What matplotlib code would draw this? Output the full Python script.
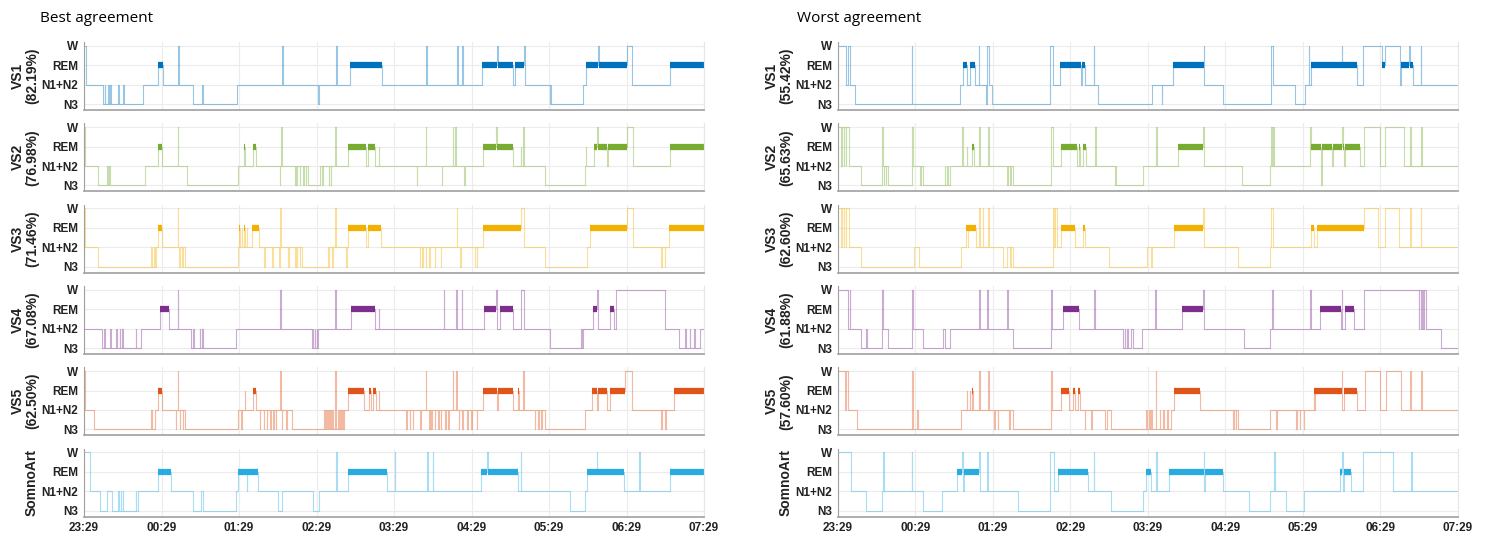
import matplotlib
matplotlib.use("Agg")
import matplotlib.pyplot as plt

# sleep stages, bottom to top
STAGES = ['N3', 'N1+N2', 'REM', 'W']
HOURS = ['23:29', '00:29', '01:29', '02:29', '03:29', '04:29', '05:29', '06:29', '07:29']
NIGHT_MIN = 480  # minutes from 23:29 to 07:29

colors = ['#0072BD', '#77AC30', '#F2B100', '#7E2F8E', '#E0541A', '#29ABE2']
best_labels = ['VS1\n(82.19%)', 'VS2\n(76.98%)', 'VS3\n(71.46%)', 'VS4\n(67.08%)', 'VS5\n(62.50%)', 'SomnoArt']
worst_labels = ['VS1\n(55.42%)', 'VS2\n(65.63%)', 'VS3\n(62.60%)', 'VS4\n(61.88%)', 'VS5\n(57.60%)', 'SomnoArt']

# hypnograms: (minute after 23:29 where a stage starts, stage index)
best_vs1 = [(0,3),(1.5,1),(14.5,0),(16,1),(16.5,0),(18.5,1),(19.5,0),(20,1),(21,0),(26.5,1),(27,0),(30,1),(31,0),
            (45.5,1),(57,2),(61,1),(73,3),(73.5,1),(84.5,0),(91.5,1),(92.5,0),(118.5,1),(153,3),(154,1),(181,0),
            (182,1),(195,3),(196,1),(206,2),(230.5,1),(264.5,3),(265.5,1),(288.5,3),(289.5,1),(292.5,3),(293.5,1),
            (308,2),(319.5,3),(320.5,2),(332.5,1),(333.5,2),(340.5,3),(341.5,1),(360.5,0),(361,1),(361.5,0),
            (386,1),(389,2),(398,3),(398.5,2),(420,3),(424,1),(454,2)]
best_vs2 = [(0,3),(1,1),(11,0),(17.5,1),(18.5,0),(19.5,1),(20.5,0),(47.5,1),(57,2),(60.5,1),(72.5,3),(73,1),
            (79.5,0),(119,1),(124,2),(125,1),(130.5,2),(133,1),(151.5,0),(152,1),(152.5,3),(153,1),(163,0),
            (163.5,1),(164.5,0),(165,1),(167,0),(167.5,1),(169.5,0),(170,1),(171.5,0),(172,1),(173.5,0),(183,1),
            (184.5,0),(185,1),(189.5,0),(190,1),(191,0),(191.5,1),(194.5,3),(195,1),(204.5,2),(218.5,1),
            (219.5,2),(225,1),(228,2),(228.5,1),(257.5,0),(258,1),(264.5,3),(265,1),(277,0),(277.5,1),(285.5,3),
            (286,1),(287.5,3),(288,1),(294.5,0),(295,1),(309,2),(319,3),(319.5,2),(332,1),(338,2),(338.5,1),
            (340,3),(340.5,1),(357,0),(388,1),(388.5,2),(389,1),(395,2),(397.5,3),(398,2),(405,1),(405.5,2),
            (420,3),(425,1),(453.5,2)]
best_vs3 = [(0,3),(1,1),(11,0),(52,1),(53,0),(54,1),(55,0),(55.5,1),(57,2),(60.5,1),(72.5,3),(73,1),(73.5,0),
            (74,1),(76,0),(76.5,1),(78.5,0),(119,1),(120,2),(120.5,1),(122,2),(122.5,1),(124,2),(125,1),(126,2),
            (126.5,1),(130,2),(135.5,1),(139.5,0),(140,1),(145.5,0),(146,1),(151,0),(151.5,1),(152,3),(152.5,1),
            (158,0),(158.5,1),(163,0),(163.5,1),(164.5,0),(165,1),(167,0),(167.5,1),(169,0),(189,1),(189.5,0),
            (190,1),(192,0),(192.5,1),(194.5,3),(195,1),(203,0),(203.5,1),(204.5,2),(218.5,1),(219.5,2),(230,1),
            (260,0),(260.5,1),(262,0),(262.5,1),(264.5,0),(265,1),(267,0),(267.5,1),(271.5,0),(272,1),(276,0),
            (276.5,1),(288.5,3),(289,1),(291,0),(291.5,1),(302.5,0),(303,1),(304,0),(304.5,1),(309,2),(338.5,3),
            (341,1),(357,0),(389.5,1),(392,2),(420,3),(425,1),(447,0),(447.5,1),(449.5,0),(450,1),(453,2)]
best_vs4 = [(0,1),(14,0),(15.5,1),(16.5,0),(20.5,1),(21,0),(25,1),(25.5,0),(27.5,1),(28,0),(29.5,1),(30,0),
            (40,1),(40.5,0),(44.5,1),(58.5,2),(66,1),(72.5,3),(73,1),(82.5,0),(84,1),(85.5,0),(89.5,1),(90,0),
            (91,1),(92,0),(118,1),(152,3),(152.5,1),(176.5,0),(177,1),(177.5,0),(178.5,1),(179,0),(180,1),
            (180.5,0),(181.5,1),(194.5,3),(195,1),(207,2),(225,1),(228,2),(228.5,1),(278.5,3),(279,1),(288,3),
            (288.5,1),(292.5,3),(293,1),(310,2),(319,3),(319.5,1),(322,2),(332,1),(338.5,3),(340.5,2),(341,1),
            (361,0),(385,1),(385.5,0),(386.5,1),(394,2),(397.5,3),(398,1),(407.5,2),(410.5,1),(411.5,3),
            (449.5,1),(461,0),(465,1),(466,0),(469,1),(469.5,0),(472,1),(473,0),(477,1)]
best_vs5 = [(0,3),(1,1),(8,0),(52,1),(53,0),(55,1),(57,2),(60.5,1),(71,0),(71.5,1),(72.5,3),(73,1),(74,0),
            (74.5,1),(76.5,0),(77,1),(78.5,0),(119,1),(121.5,0),(122,1),(124.5,2),(125,1),(131,2),(133,1),
            (136,0),(136.5,1),(139,0),(139.5,1),(141.5,0),(142,1),(144,0),(144.5,1),(146.5,0),(147,1),(148.5,0),
            (149,1),(152,3),(152.5,1),(153,0),(153.5,1),(156.5,0),(157,1),(161,0),(186,1),(186.5,0),(187.5,1),
            (188,0),(189,1),(189.5,0),(190.5,1),(191,0),(192,1),(192.5,0),(194.5,3),(195,0),(197,1),(197.5,0),
            (198.5,1),(199,0),(200,1),(200.5,0),(201.5,1),(204.5,2),(217,1),(220.5,2),(222.5,1),(224,2),(226,1),
            (228,2),(228.5,1),(249.5,0),(250,1),(252,0),(252.5,1),(254.5,0),(255,1),(260.5,0),(261,1),(264.5,3),
            (265,1),(267,0),(267.5,1),(269,0),(269.5,1),(271.5,0),(272,1),(274,0),(274.5,1),(276,0),(276.5,1),
            (279.5,0),(280,1),(282,0),(282.5,1),(285.5,3),(286,1),(288,3),(288.5,1),(290,0),(290.5,1),(293,0),
            (293.5,1),(296.5,0),(297,1),(299.5,0),(300,1),(304,0),(304.5,1),(309,2),(320,1),(320.5,2),(332,1),
            (336,2),(337,1),(340,3),(340.5,1),(349,0),(349.5,1),(351.5,0),(352,1),(354,0),(354.5,1),(357,0),
            (388,1),(393,2),(397.5,1),(398,2),(405,1),(407.5,2),(419,3),(424,1),(447,0),(447.5,1),(450,0),
            (450.5,1),(456.5,2)]
best_somno = [(0,3),(5,1),(12.5,0),(18,1),(22,0),(26.5,1),(27,0),(28.5,1),(29,0),(30,1),(30.5,0),(40,1),
              (40.5,0),(42,1),(57.5,2),(67,1),(84.5,0),(90.5,1),(92.5,0),(118,1),(119.5,2),(126,1),(126.5,2),
              (135,1),(150.5,0),(153,1),(177,0),(182,1),(195,3),(195.5,1),(204.5,2),(234.5,1),(240.5,3),(241,1),
              (265.5,3),(266,1),(270,3),(270.5,1),(307.5,2),(312,3),(312.5,2),(336,1),(338,3),(338.5,1),(376,0),
              (388,1),(389.5,2),(397,3),(397.5,2),(418,1),(430,3),(430.5,1),(454,2)]

worst_vs1 = [(0,3),(6,1),(7.5,3),(9,1),(13,0),(57,3),(57.5,0),(94.5,1),(96.5,2),(100,1),(102,2),(106,1),
             (109,3),(109.5,1),(114.5,0),(115,3),(117,1),(119.5,0),(164,3),(166.5,1),(171.5,2),(188,1),(189,2),
             (191,1),(198,3),(198.5,1),(201,0),(243,1),(250.5,0),(251,1),(259.5,2),(283,3),(283.5,1),(298,0),
             (335.5,3),(336.5,1),(353.5,0),(361.5,1),(364.5,3),(365,1),(366.5,2),(390,3),(390.5,2),(401.5,1),
             (406.5,3),(421,2),(423.5,3),(435,1),(436,2),(442,3),(442.5,2),(445.5,1),(451,3),(451.5,1)]
worst_vs2 = [(0,3),(2.5,1),(3,3),(4.5,1),(5,3),(6,1),(6.5,3),(8.5,1),(18,0),(34,3),(34.5,1),(35.5,0),(36,1),
             (37,0),(37.5,1),(39,0),(57.5,3),(58,1),(63.5,0),(64,1),(65.5,0),(82.5,1),(83,0),(84.5,1),(85,0),
             (87,1),(96,3),(96.5,1),(99.5,2),(100,1),(103.5,2),(105.5,1),(109.5,3),(110,1),(116.5,3),(117,1),
             (131,0),(131.5,1),(133.5,0),(134,1),(135.5,0),(165,3),(166.5,1),(173,2),(185,1),(186.5,2),(187,1),
             (190,2),(192,1),(199,3),(199.5,1),(214.5,0),(215,1),(215.5,0),(236.5,1),(246.5,3),(247,1),(263,2),
             (282.5,3),(283,1),(312.5,0),(334.5,1),(335.5,3),(336,1),(337,3),(337.5,1),(365.5,3),(366,2),(374,0),
             (374.5,2),(382.5,1),(383,2),(390.5,3),(391,2),(392,1),(392.5,2),(404.5,1),(407,3),(420,1),(423.5,3),
             (438,1),(443,3),(443.5,1),(451,3),(452,1)]
worst_vs3 = [(0,3),(2.5,1),(3,3),(4.5,1),(5,3),(6,1),(6.5,3),(8.5,1),(18,0),(59,1),(63,0),(95,1),(99,2),
             (100.5,1),(101,2),(106.5,1),(109.5,3),(110,1),(112,3),(112.5,1),(116.5,3),(117,1),(127.5,0),
             (130.5,1),(133.5,0),(134,1),(135.5,0),(166.5,3),(167,1),(168,3),(169.5,1),(173,2),(183.5,1),(190,2),
             (191.5,1),(210,0),(239.5,1),(242.5,0),(243,1),(260.5,2),(282.5,3),(283,1),(309.5,0),(334.5,1),
             (335.5,3),(336.5,1),(366.5,2),(368.5,1),(371,2),(407,3),(418,1),(423.5,3),(434,1),(443,3),(443.5,1),
             (451,3),(451.5,1)]
worst_vs4 = [(0,3),(8,1),(9,3),(9.5,1),(18,0),(22,1),(22.5,0),(34,3),(34.5,1),(39,0),(57.5,3),(58,1),(66,0),
             (81.5,1),(83,0),(87,1),(109.5,3),(110,1),(115.5,3),(116,1),(131,3),(131.5,1),(135.5,0),(165,3),
             (166,1),(174,2),(186.5,1),(198.5,3),(199,1),(221,0),(222,1),(222.5,0),(224,1),(224.5,0),(227,1),
             (228.5,0),(235.5,1),(245.5,3),(246,1),(266,2),(282.5,3),(283,1),(314,0),(334.5,1),(336,3),(336.5,1),
             (365.5,3),(366,1),(373,2),(389.5,1),(390,3),(390.5,1),(392.5,2),(399.5,1),(407,3),(449.5,1),(450,3),
             (451,1),(452.5,3),(453,1),(454,3),(455.5,1),(467,0)]
worst_vs5 = [(0,3),(5.5,1),(6,3),(7.5,1),(15,0),(57.5,3),(58,0),(61.5,1),(62,0),(95,1),(99.5,2),(100,1),
             (102,2),(102.5,1),(104,2),(104.5,1),(109.5,3),(110,1),(116.5,3),(117,1),(121,0),(121.5,1),(123.5,0),
             (124,1),(132.5,0),(133,1),(135.5,0),(165,3),(166,1),(172.5,2),(178.5,1),(182,2),(183.5,1),(185.5,2),
             (187,1),(191,0),(191.5,1),(196,0),(196.5,1),(207,0),(208.5,1),(211.5,0),(238.5,1),(239,0),(241,1),
             (241.5,0),(242.5,1),(243,0),(246,3),(246.5,0),(249,1),(249.5,0),(252,1),(252.5,0),(255,1),(255.5,0),
             (257.5,1),(260.5,2),(280,1),(306,0),(306.5,1),(308,0),(308.5,1),(309.5,0),(334.5,1),(339,0),
             (339.5,1),(354.5,0),(355,1),(357.5,0),(358,1),(360.5,0),(361,1),(368.5,2),(369,1),(369.5,2),(390,3),
             (390.5,1),(392,2),(402,1),(408,3),(420,1),(424.5,3),(435.5,1),(443,3),(443.5,1),(451.5,3),(452,1)]
worst_somno = [(0,3),(10,1),(21.5,0),(34,1),(35,3),(35.5,1),(57,3),(57.5,1),(66,0),(80.5,1),(92,2),(96,3),
               (96.5,1),(97.5,2),(109.5,3),(110,1),(115.5,3),(116,1),(139.5,0),(164.5,3),(167,1),(170.5,2),
               (193.5,1),(198,3),(198.5,1),(211,0),(236.5,1),(238.5,2),(242.5,1),(246.5,3),(247,1),(256.5,2),
               (283,3),(283.5,1),(284,2),(298,1),(318.5,0),(334.5,1),(337.5,3),(338,1),(347,0),(360.5,1),
               (388.5,2),(390.5,3),(391,1),(392,2),(397,1),(406.5,3),(430,1),(444,3),(444.5,1)]

best = [best_vs1, best_vs2, best_vs3, best_vs4, best_vs5, best_somno]
worst = [worst_vs1, worst_vs2, worst_vs3, worst_vs4, worst_vs5, worst_somno]


def draw_hypnogram(ax, seq, color):
    t = [a for a, b in seq] + [NIGHT_MIN]
    s = [b for a, b in seq] + [seq[-1][1]]
    ax.step(t, s, where='post', color=color, lw=0.8, alpha=0.4)
    # REM periods drawn as thick bars
    for i, (a, b) in enumerate(seq):
        if b == 2:
            ax.hlines(2, a, t[i + 1], color=color, lw=4.5)


W, H = 1487, 538
fig = plt.figure(figsize=(W / 100, H / 100), dpi=100)

for p, (panel, labels, lefts) in enumerate([(best, best_labels, 84), (worst, worst_labels, 838)]):
    for r in range(6):
        ax = fig.add_axes([lefts / W, 1 - (110 + 81.3 * r) / H, 620 / W, 68 / H])
        draw_hypnogram(ax, panel[r], colors[r])
        ax.set_xlim(0, NIGHT_MIN)
        ax.set_ylim(-0.3, 3.2)
        ax.set_xticks(range(0, NIGHT_MIN + 1, 60))
        ax.set_yticks(range(4))
        ax.set_yticklabels(STAGES, fontsize=8.5, fontweight='bold', family='Liberation Sans', color='#222222')
        if r == 5:
            ax.set_xticklabels(HOURS, fontsize=8.5, fontweight='bold', family='Liberation Sans', color='#222222')
        else:
            ax.set_xticklabels([])
        ax.tick_params(length=0, pad=4)
        ax.grid(color='#ececec', lw=0.8)
        ax.set_axisbelow(True)
        ax.spines['top'].set_visible(False)
        ax.spines['right'].set_color('#e6e6e6')
        ax.spines['left'].set_color('#a0a0a0')
        ax.spines['bottom'].set_color('#a0a0a0')
        ax.spines['bottom'].set_linewidth(1.2)
        xl = -0.095 if '\n' in labels[r] else -0.085
        ax.text(xl, 0.5, labels[r], transform=ax.transAxes, rotation=90, ha='center', va='center',
                multialignment='center', fontsize=10, fontweight='bold', family='Liberation Sans',
                color='#222222', linespacing=1.0)

fig.text(40 / W, 1 - 18 / H, 'Best agreement', fontsize=11, family='Open Sans', va='center', ha='left')
fig.text(797 / W, 1 - 18 / H, 'Worst agreement', fontsize=11, family='Open Sans', va='center', ha='left')

fig.savefig('out.png', dpi=100)
